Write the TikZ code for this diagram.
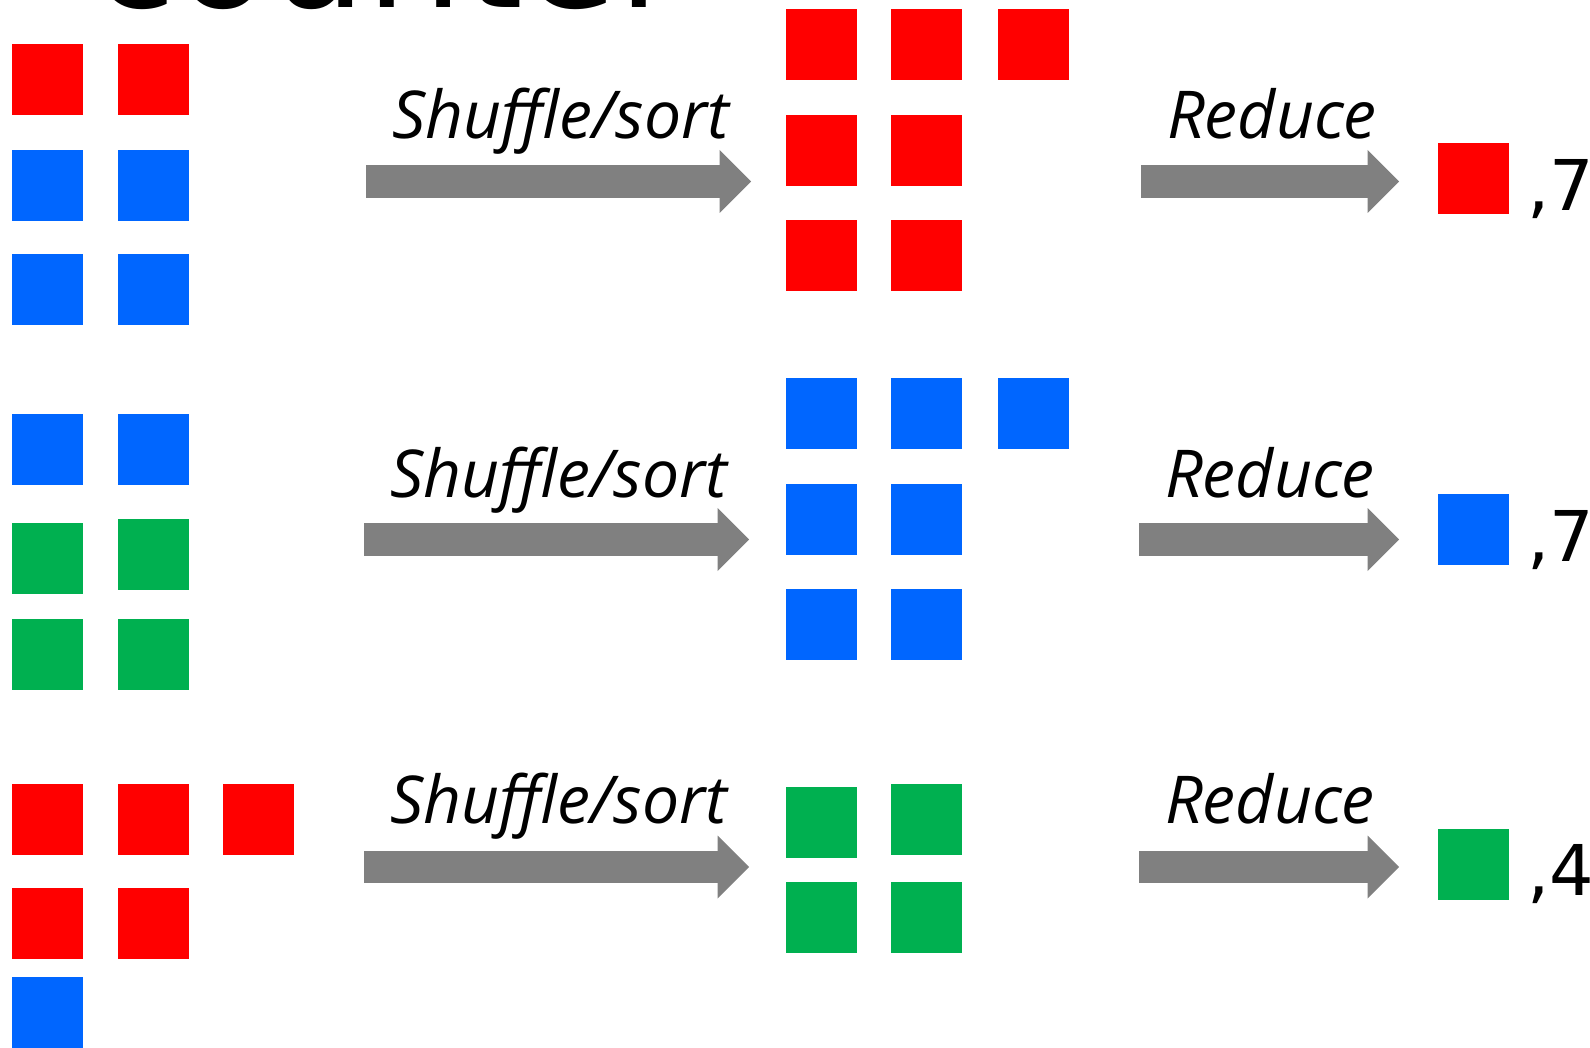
\documentclass[tikz,border=0pt]{standalone}
\usepackage{fontspec}
\setmainfont{Open Sans}
\newfontfamily\countfont{DejaVu Sans}
\usetikzlibrary{arrows.meta}
\definecolor{keyred}{HTML}{FF0000}
\definecolor{keyblue}{HTML}{0066FF}
\definecolor{keygreen}{HTML}{00B050}
\definecolor{arrowgray}{HTML}{808080}
\tikzset{
  tile/.style={draw=none, inner sep=0pt, outer sep=0pt, minimum size=71pt, anchor=north west},
  redtile/.style={tile, fill=keyred},
  bluetile/.style={tile, fill=keyblue},
  greentile/.style={tile, fill=keygreen},
  bigarrow/.style={draw=arrowgray, line width=32.4pt,
    -{Triangle[length=31.5pt, width=63pt, line width=0pt 0]}},
  steplabel/.style={font=\fontsize{66}{80}\selectfont\itshape, anchor=base, inner sep=0pt},
  countlabel/.style={font=\countfont\fontsize{70}{84}\selectfont, anchor=base west, inner sep=0pt},
  titlelabel/.style={font=\countfont\fontsize{153}{180}\selectfont, anchor=base west, inner sep=0pt},
}
\begin{document}
\begin{tikzpicture}[x=1pt, y=-1pt]
  \useasboundingbox (0,0) rectangle (1590,1048);

  % heading, mostly above the page
  \node[titlelabel] (title) at (92,8) {counter};

  % ---- first group: map output (red/blue)
  \node[redtile]  (m1a) at (12,43.6) {};
  \node[redtile]  (m1b) at (117.5,43.6) {};
  \node[bluetile] (m1c) at (12,150) {};
  \node[bluetile] (m1d) at (117.5,150) {};
  \node[bluetile] (m1e) at (12,254.5) {};
  \node[bluetile] (m1f) at (117.5,254.5) {};

  % ---- second group: map output (blue/green)
  \node[bluetile]  (m2a) at (12,413.7) {};
  \node[bluetile]  (m2b) at (117.5,413.7) {};
  \node[greentile] (m2c) at (12,523) {};
  \node[greentile] (m2d) at (117.5,519) {};
  \node[greentile] (m2e) at (12,618.5) {};
  \node[greentile] (m2f) at (117.5,618.5) {};

  % ---- third group: map output (red/blue)
  \node[redtile]  (m3a) at (12,784) {};
  \node[redtile]  (m3b) at (117.5,784) {};
  \node[redtile]  (m3c) at (223,784) {};
  \node[redtile]  (m3d) at (12,888) {};
  \node[redtile]  (m3e) at (117.5,888) {};
  \node[bluetile] (m3f) at (12,976.5) {};

  % ---- sorted keys
  \node[redtile] (s1a) at (786,9) {};
  \node[redtile] (s1b) at (891,9) {};
  \node[redtile] (s1c) at (998,9) {};
  \node[redtile] (s1d) at (786,114.6) {};
  \node[redtile] (s1e) at (891,114.6) {};
  \node[redtile] (s1f) at (786,220) {};
  \node[redtile] (s1g) at (891,220) {};

  \node[bluetile] (s2a) at (786,378) {};
  \node[bluetile] (s2b) at (891,378) {};
  \node[bluetile] (s2c) at (998,378) {};
  \node[bluetile] (s2d) at (786,483.7) {};
  \node[bluetile] (s2e) at (891,483.7) {};
  \node[bluetile] (s2f) at (786,589) {};
  \node[bluetile] (s2g) at (891,589) {};

  \node[greentile] (s3a) at (786,787) {};
  \node[greentile] (s3b) at (891,784) {};
  \node[greentile] (s3c) at (786,882) {};
  \node[greentile] (s3d) at (891,882) {};

  % ---- reduced results
  \node[redtile]   (r1) at (1438,143) {};
  \node[bluetile]  (r2) at (1438,494) {};
  \node[greentile] (r3) at (1438,828.5) {};
  \node[countlabel] (c1) at (1527,211) {,7};
  \node[countlabel] (c2) at (1527,561) {,7};
  \node[countlabel] (c3) at (1527,895) {,4};

  % ---- arrow end points
  \coordinate (sh1s) at (366,181.5);  \coordinate (sh1e) at (751,181.5);
  \coordinate (rd1s) at (1141,181.5); \coordinate (rd1e) at (1399,181.5);
  \coordinate (sh2s) at (364,539.5);  \coordinate (sh2e) at (749,539.5);
  \coordinate (rd2s) at (1139,539.5); \coordinate (rd2e) at (1399,539.5);
  \coordinate (sh3s) at (364,867);    \coordinate (sh3e) at (749,867);
  \coordinate (rd3s) at (1139,867);   \coordinate (rd3e) at (1399,867);

  \draw[bigarrow] (sh1s) -- (sh1e);
  \draw[bigarrow] (rd1s) -- (rd1e);
  \draw[bigarrow] (sh2s) -- (sh2e);
  \draw[bigarrow] (rd2s) -- (rd2e);
  \draw[bigarrow] (sh3s) -- (sh3e);
  \draw[bigarrow] (rd3s) -- (rd3e);

  % ---- arrow captions
  \node[steplabel] (l1a) at (561,139) {Shuffle/sort};
  \node[steplabel] (l1b) at (1272,139) {Reduce};
  \node[steplabel] (l2a) at (559,497) {Shuffle/sort};
  \node[steplabel] (l2b) at (1270,497) {Reduce};
  \node[steplabel] (l3a) at (559,823.5) {Shuffle/sort};
  \node[steplabel] (l3b) at (1270,823.5) {Reduce};
\end{tikzpicture}
\end{document}
